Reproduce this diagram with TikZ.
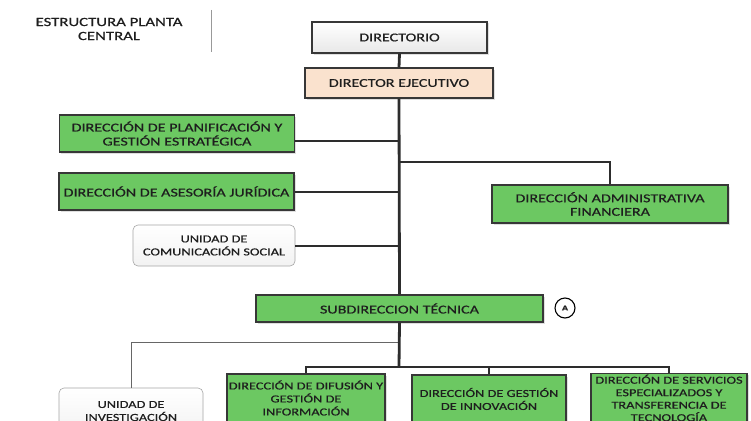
\documentclass[tikz,border=0pt]{standalone}
\usepackage{fontspec}
\setmainfont{Carlito}[FakeStretch=1.34,FakeBold=0.6]
\usetikzlibrary{shadows}
\definecolor{boxgreen}{RGB}{108,200,98}
\definecolor{peach}{RGB}{250,226,206}
\definecolor{edge}{RGB}{55,55,55}
\definecolor{lineclr}{RGB}{45,45,45}
\definecolor{txt}{RGB}{30,30,30}
\begin{document}
\begin{tikzpicture}[x=1pt,y=-1pt,
  every node/.style={font=\fontsize{12}{14}\selectfont, text=txt, align=center, inner sep=1pt},
  small/.style={font=\fontsize{10.7}{13}\selectfont},
  gbox/.style={draw=edge, line width=1.3pt, fill=boxgreen, drop shadow={opacity=0.25,shadow xshift=1.5pt,shadow yshift=-1.5pt}},
  wbox/.style={draw=edge, line width=1.3pt, top color=white, bottom color=gray!18, drop shadow={opacity=0.25,shadow xshift=1.5pt,shadow yshift=-1.5pt}},
  pbox/.style={draw=edge, line width=1.3pt, fill=peach, drop shadow={opacity=0.25,shadow xshift=1.5pt,shadow yshift=-1.5pt}},
  ubox/.style={draw=gray!70, line width=0.6pt, rounded corners=5pt, top color=white, bottom color=gray!10},
  trunk/.style={draw=lineclr, line width=2.8pt},
  branch/.style={draw=lineclr, line width=2pt},
  thinline/.style={draw=gray!80!black, line width=1pt}]
\clip (0,0) rectangle (751,420);
\useasboundingbox (0,0) rectangle (751,420);
\fill[white] (0,0) rectangle (751,420);

% header
\node[font=\fontsize{12.5}{14}\selectfont] (head) at (109,29) {ESTRUCTURA PLANTA\\CENTRAL};
\draw[gray!80, line width=0.8pt] (211,10) -- (211,52);

% boxes
\node[wbox, minimum width=175pt, minimum height=31pt] (dir) at (399.5,37.5) {DIRECTORIO};
\node[pbox, minimum width=188pt, minimum height=30pt] (dex) at (399,83) {DIRECTOR EJECUTIVO};
\node[gbox, minimum width=235pt, minimum height=37pt] (plan) at (177,133.5) {DIRECCIÓN DE PLANIFICACIÓN Y\\GESTIÓN ESTRATÉGICA};
\node[gbox, minimum width=235pt, minimum height=37pt] (jur) at (176.5,191.5) {DIRECCIÓN DE ASESORÍA JURÍDICA};
\node[ubox, small, minimum width=162pt, minimum height=41pt] (com) at (214,245.5) {UNIDAD DE\\COMUNICACIÓN SOCIAL};
\node[gbox, minimum width=236pt, minimum height=38pt, font=\fontsize{12}{13.5}\selectfont] (adm) at (610,204) {DIRECCIÓN ADMINISTRATIVA\\FINANCIERA};
\node[gbox, minimum width=287pt, minimum height=27pt] (sub) at (399.5,308.5) {SUBDIRECCION TÉCNICA};
\node[draw=black, line width=1.1pt, circle, minimum size=20pt, inner sep=0pt, font=\fontsize{7.5}{8}\selectfont\bfseries] (A) at (565,308) {A};

\node[ubox, small, minimum width=144pt, minimum height=46pt] (inv) at (131,411) {UNIDAD DE\\INVESTIGACIÓN};
\node[gbox, small, minimum width=158pt, minimum height=48pt] (dif) at (306,398) {DIRECCIÓN DE DIFUSIÓN Y\\GESTIÓN DE\\INFORMACIÓN};
\node[gbox, small, minimum width=154pt, minimum height=48pt] (inn) at (489,399) {DIRECCIÓN DE GESTIÓN\\DE INNOVACIÓN};
\node[gbox, minimum width=156pt, minimum height=48pt, font=\fontsize{10.7}{12.5}\selectfont] (ser) at (669,398) {DIRECCIÓN DE SERVICIOS\\ESPECIALIZADOS Y\\TRANSFERENCIA DE\\TECNOLOGÍA};

% junction coordinates
\coordinate (jadm) at (399,162);
\coordinate (jinv) at (399,342);
\coordinate (bus) at (399,367);

% connectors
\draw[branch] ([yshift=-7pt]plan.east) -- ([yshift=-7pt]plan.east -| dex.south);
\draw[branch] (jur.east) -- (jur.east -| dex.south);
\draw[branch] (com.east) -- (com.east -| dex.south);
\draw[branch] (jadm) -| (adm.north);
\draw[thinline] (jinv) -| (inv.north);
\draw[branch] (dif.north) |- (bus) -| (ser.north);
\draw[branch] (inn.north) -- (inn.north |- bus);
\draw[trunk] (dir.south) -- (dex.north);
\draw[trunk] (dex.south) -- (sub.north);
\draw[trunk] (sub.south) -- (bus);
\end{tikzpicture}
\end{document}
